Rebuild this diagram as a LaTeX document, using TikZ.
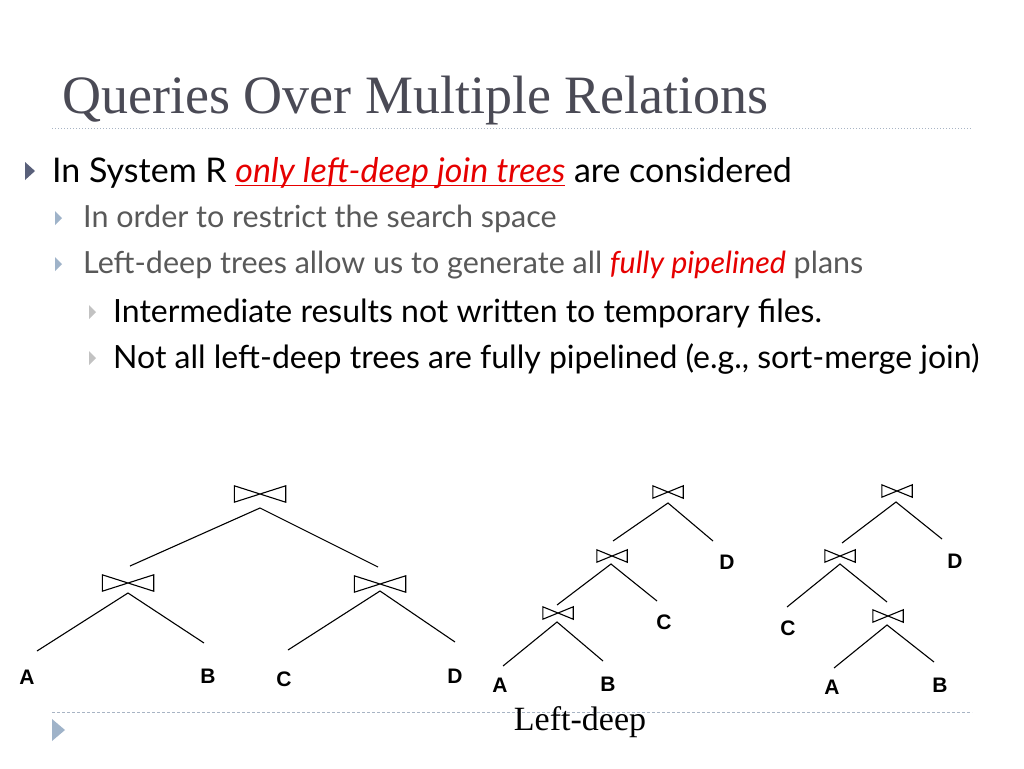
\documentclass[tikz,border=0pt]{standalone}
\usepackage{fontspec}
\setmainfont{Liberation Serif}
\newfontfamily\gill{Lato}
\newfontfamily\arial{Liberation Sans}
\usetikzlibrary{calc}
\definecolor{titlegray}{HTML}{4A4A55}
\definecolor{subgray}{HTML}{595959}
\definecolor{hotred}{HTML}{E60000}
\definecolor{bul1}{HTML}{59607A}
\definecolor{bul2}{HTML}{9FB3C9}
\definecolor{bul3}{HTML}{C2C2C2}
\definecolor{rulegray}{HTML}{A8B4C4}
\newcommand\redul[1]{\setbox0\hbox{#1}\rlap{\raisebox{-4pt}{\color{hotred}\rule{\wd0}{1.3pt}}}\box0\relax}
\begin{document}
\begin{tikzpicture}[x=1pt,y=-1pt,
  txt/.style={anchor=base west,inner sep=0pt},
  lvlone/.style={txt,font=\gill\fontsize{34}{40}\selectfont,text=black},
  lvltwo/.style={txt,font=\gill\fontsize{30.5}{36}\selectfont,text=subgray},
  lvlthree/.style={txt,font=\gill\fontsize{32}{38}\selectfont,text=black},
  bigjoin/.style={minimum width=51pt,minimum height=16pt,inner sep=0pt},
  smalljoin/.style={minimum width=30pt,minimum height=12pt,inner sep=0pt},
  rel/.style={font=\arial\bfseries\fontsize{21}{24}\selectfont,inner sep=0pt,anchor=center},
  edge/.style={draw=black,line width=1.1pt},
  bowline/.style={draw=black,line width=1.1pt,line join=miter}
]
\useasboundingbox (0,0) rectangle (1024,768);
\fill[white] (0,0) rectangle (1024,768);

% title
\node[txt,font=\fontsize{54}{60}\selectfont,text=titlegray] (title) at (62,113) {Queries Over Multiple Relations};
\draw[rulegray,line width=1pt,dotted] (52,128) -- (972,128);

% bullets
\fill[bul1] (25,162) -- (35,171) -- (25,180) -- cycle;
\node[lvlone] (b1) at (52,182) {In System R \redul{\textcolor{hotred}{\itshape only left-deep join trees}} are considered};
\fill[bul2] (55,211) -- (62,218) -- (55,225) -- cycle;
\node[lvltwo] (b2) at (83,227) {In order to restrict the search space};
\fill[bul2] (55,257) -- (62,264) -- (55,271) -- cycle;
\node[lvltwo] (b3) at (83,273) {Left-deep trees allow us to generate all \textcolor{hotred}{\itshape fully pipelined} plans};
\fill[bul3] (89,305) -- (96,312) -- (89,319) -- cycle;
\node[lvlthree] (b4) at (113,322) {Intermediate results not written to temporary files.};
\fill[bul3] (89,351) -- (96,358) -- (89,365) -- cycle;
\node[lvlthree] (b5) at (113,368) {Not all left-deep trees are fully pipelined (e.g., sort-merge join)};

% ---- tree 1 (bushy)
\node[bigjoin] (r1) at (260,494) {};
\node[bigjoin] (l1) at (128,583) {};
\node[bigjoin] (m1) at (380,584) {};
\node[rel] (a1) at (27,677) {A};
\node[rel] (bb1) at (208,676) {B};
\node[rel] (c1) at (284,679) {C};
\node[rel] (d1) at (455,676) {D};
\foreach \n in {r1,l1,m1}{
  \draw[bowline] (\n.north west) -- (\n.south west) -- (\n.north east) -- (\n.south east) -- cycle;
}
\coordinate (r1s) at (260,508);
\coordinate (l1t) at (130,566);
\coordinate (m1t) at (378,567);
\coordinate (l1s) at (128,593);
\coordinate (a1t) at (37,651);
\coordinate (b1t) at (204,643);
\coordinate (m1s) at (380,591);
\coordinate (c1t) at (288,650);
\coordinate (d1t) at (455,642);
\draw[edge] (l1t) -- (r1s) -- (m1t);
\draw[edge] (a1t) -- (l1s) -- (b1t);
\draw[edge] (c1t) -- (m1s) -- (d1t);

% ---- tree 2 (left-deep)
\node[smalljoin] (r2) at (668,492) {};
\node[smalljoin] (m2) at (612,556) {};
\node[smalljoin] (l2) at (558,613) {};
\node[rel] (d2) at (727,562) {D};
\node[rel] (c2) at (664,622) {C};
\node[rel] (a2) at (500,685) {A};
\node[rel] (bb2) at (608,684) {B};
\foreach \n in {r2,m2,l2}{
  \draw[bowline] (\n.north west) -- (\n.south west) -- (\n.north east) -- (\n.south east) -- cycle;
}
\coordinate (r2s) at (668,503);
\coordinate (m2t) at (613,541);
\coordinate (d2t) at (713,541);
\coordinate (m2s) at (611,564);
\coordinate (l2t) at (557,605);
\coordinate (c2t) at (657,601);
\coordinate (l2s) at (557,622);
\coordinate (a2t) at (503,666);
\coordinate (b2t) at (603,661);
\draw[edge] (m2t) -- (r2s) -- (d2t);
\draw[edge] (l2t) -- (m2s) -- (c2t);
\draw[edge] (a2t) -- (l2s) -- (b2t);

% ---- tree 3
\node[smalljoin] (r3) at (897,491) {};
\node[smalljoin] (m3) at (840,556) {};
\node[smalljoin] (l3) at (888,616) {};
\node[rel] (d3) at (955,561) {D};
\node[rel] (c3) at (788,628) {C};
\node[rel] (a3) at (832,687) {A};
\node[rel] (bb3) at (940,685) {B};
\foreach \n in {r3,m3,l3}{
  \draw[bowline] (\n.north west) -- (\n.south west) -- (\n.north east) -- (\n.south east) -- cycle;
}
\coordinate (r3s) at (896,502);
\coordinate (m3t) at (842,543);
\coordinate (d3t) at (942,539);
\coordinate (m3s) at (840,564);
\coordinate (c3t) at (787,607);
\coordinate (l3t) at (887,602);
\coordinate (l3s) at (887,625);
\coordinate (a3t) at (834,668);
\coordinate (b3t) at (934,662);
\draw[edge] (m3t) -- (r3s) -- (d3t);
\draw[edge] (c3t) -- (m3s) -- (l3t);
\draw[edge] (a3t) -- (l3s) -- (b3t);

% bottom
\draw[rulegray,line width=1pt,dash pattern=on 3pt off 2pt] (52,712) -- (972,712);
\fill[bul2] (52,719) -- (65,730) -- (52,741) -- cycle;
\node[anchor=base,inner sep=0pt,font=\fontsize{34}{38}\selectfont] (cap) at (580,730) {Left-deep};
\end{tikzpicture}
\end{document}
